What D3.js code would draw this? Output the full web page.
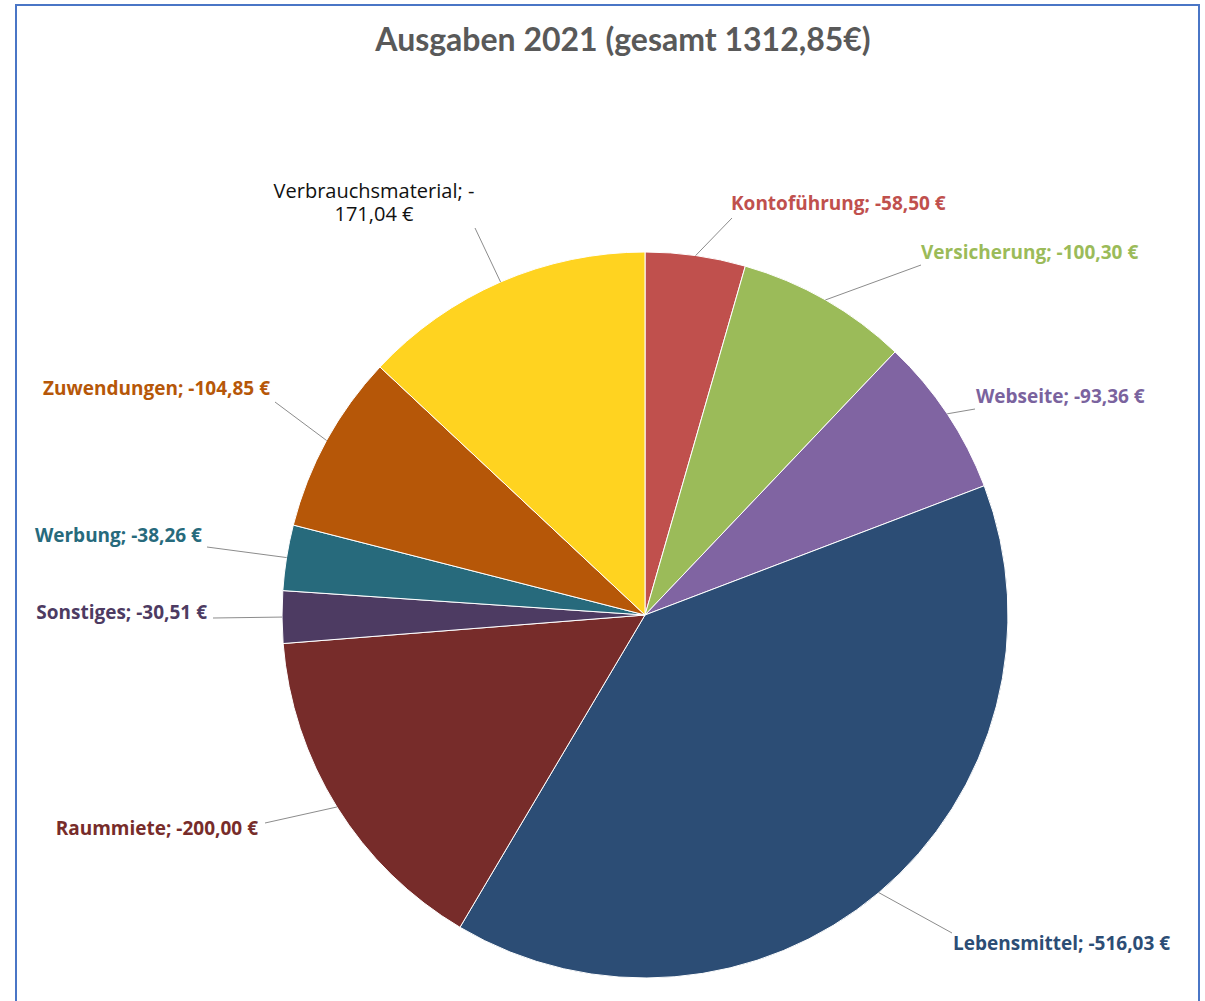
<!DOCTYPE html>
<html>
<head>
<meta charset="utf-8">
<script src="https://cdn.jsdelivr.net/npm/d3@7"></script>
<style>
  body { margin: 0; background: #fff; }
  svg { display: block; }
</style>
</head>
<body>
<svg id="chart"></svg>
<script>
// Ausgaben 2021, clockwise from 12 o'clock
var categories = ["Kontoführung", "Versicherung", "Webseite", "Lebensmittel", "Raummiete",
                  "Sonstiges", "Werbung", "Zuwendungen", "Verbrauchsmaterial"]
var values = [58.50, 100.30, 93.36, 516.03, 200.00, 30.51, 38.26, 104.85, 171.04]
var valueLabels = ["-58,50 €", "-100,30 €", "-93,36 €", "-516,03 €", "-200,00 €",
                   "-30,51 €", "-38,26 €", "-104,85 €", "-171,04 €"]
var title = "Ausgaben 2021 (gesamt 1312,85€)"

var colors = ["#c0504d", "#9bbb59", "#8064a2", "#2c4d75", "#772c2a",
              "#4d3b62", "#276a7c", "#b65708", "#ffd320"]
var textColors = ["#c0504d", "#9bbb59", "#7a639e", "#2c4d75", "#772c2a",
                  "#4d3b62", "#276a7c", "#b65708", "#111111"]

var dimensions = {
    width: 1205,
    height: 1001,
    cx: 645,
    cy: 615,
    radius: 363
}

// where Excel put each label: anchor point of the leader on the label side
var labelPlace = [
    {x: 732, y: 218, tx: 731, ty: 203, anchor: "start"},
    {x: 921, y: 265, tx: 921, ty: 252, anchor: "start"},
    {x: 975, y: 409, tx: 976, ty: 396, anchor: "start"},
    {x: 952, y: 933, tx: 953, ty: 943, anchor: "start"},
    {x: 265, y: 823, tx: 258, ty: 828, anchor: "end"},
    {x: 213, y: 618, tx: 207, ty: 612, anchor: "end"},
    {x: 207, y: 547, tx: 202, ty: 535, anchor: "end"},
    {x: 275, y: 402, tx: 270, ty: 388, anchor: "end"},
    {x: 475, y: 228, tx: 374, ty: 191, anchor: "middle"}
]

var data = categories.map((c, i) => ({name: c, value: values[i], label: valueLabels[i], idx: i}))

var svg = d3.select("#chart")
            .attr("width", dimensions.width)
            .attr("height", dimensions.height)

// frame
svg.append("rect")
   .attr("x", 16)
   .attr("y", 5)
   .attr("width", 1183)
   .attr("height", 1020)
   .style("fill", "none")
   .style("stroke", "#4a76c6")
   .style("stroke-width", 2)

svg.append("text")
   .attr("x", 623)
   .attr("y", 51)
   .attr("text-anchor", "middle")
   .style("font-family", "Lato, 'Open Sans', sans-serif")
   .style("font-weight", "bold")
   .style("font-size", "32px")
   .style("fill", "#595959")
   .text(title)

var pie = d3.pie()
            .sort(null)
            .value(d => d.value)

var arc = d3.arc()
            .innerRadius(0)
            .outerRadius(dimensions.radius)

var arcs = pie(data)

var g = svg.append("g")
           .attr("transform", "translate(" + dimensions.cx + "," + dimensions.cy + ")")

g.selectAll("path")
 .data(arcs)
 .enter()
 .append("path")
 .attr("d", arc)
 .style("fill", d => colors[d.data.idx])
 .style("stroke", "#ffffff")
 .style("stroke-width", 1)

// leader lines from the slice edge to the label
svg.append("g")
   .selectAll("line")
   .data(arcs)
   .enter()
   .append("line")
   .attr("x1", d => {
       var a = (d.startAngle + d.endAngle) / 2
       return dimensions.cx + dimensions.radius * Math.sin(a)
   })
   .attr("y1", d => {
       var a = (d.startAngle + d.endAngle) / 2
       return dimensions.cy - dimensions.radius * Math.cos(a)
   })
   .attr("x2", d => labelPlace[d.data.idx].x)
   .attr("y2", d => labelPlace[d.data.idx].y)
   .style("stroke", "#8c8c8c")
   .style("stroke-width", 1)

var labels = svg.append("g")
                .selectAll("text")
                .data(arcs)
                .enter()
                .append("text")
                .attr("x", d => labelPlace[d.data.idx].tx)
                .attr("y", d => labelPlace[d.data.idx].ty)
                .attr("dy", "0.35em")
                .attr("text-anchor", d => labelPlace[d.data.idx].anchor)
                .style("font-family", "'Open Sans', Lato, sans-serif")
                .style("font-size", d => d.data.name == "Verbrauchsmaterial" ? "20px" : "19px")
                .style("font-weight", d => d.data.name == "Verbrauchsmaterial" ? "normal" : "bold")
                .style("fill", d => textColors[d.data.idx])

labels.each(function(d) {
    var t = d3.select(this)
    if (d.data.name == "Verbrauchsmaterial") {
        // wrapped in two lines like in Excel
        t.append("tspan").text(d.data.name + "; -")
        var rest = d.data.label.replace(/^-/, "")
        t.append("tspan")
         .attr("x", labelPlace[d.data.idx].tx)
         .attr("dy", "1.15em")
         .text(rest)
    } else {
        t.text(d.data.name + "; " + d.data.label)
    }
})
</script>
</body>
</html>
